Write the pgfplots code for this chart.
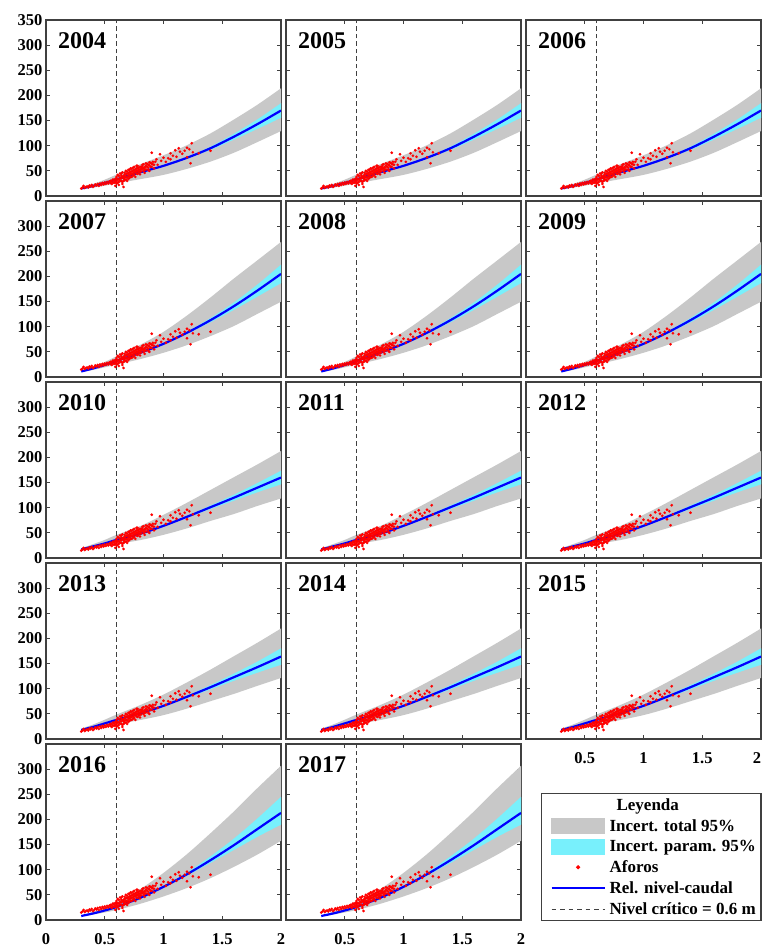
\documentclass[border=0pt]{standalone}
\usepackage{fontspec}
\setmainfont{Liberation Serif}
\usepackage{pgfplots}
\usepackage{pgfplotstable}
\pgfplotsset{compat=1.18}
\usepgfplotslibrary{fillbetween}

\definecolor{grayband}{RGB}{200,200,200}
\definecolor{cyanband}{RGB}{120,240,252}
\definecolor{frame}{RGB}{64,64,64}

% rating curves: x = stage (m), q = discharge, gu/gl = total 95%, cu/cl = parametric 95%
\pgfplotstableread{
x q gu gl cu cl
0.3 15 17.3 13.1 15.0 15.0
0.4 20 24.0 16.6 20.0 20.0
0.5 26 32.5 20.5 26.0 26.0
0.6 33 42.6 25.1 33.1 32.9
0.8 47 63.0 33.4 47.3 46.7
1.0 60 81.0 42.0 60.9 59.1
1.2 76 101.1 54.0 77.8 74.2
1.4 95 124.5 68.4 98.4 91.6
1.6 118 152.2 86.1 123.9 112.1
1.8 143 181.6 107.3 152.5 133.5
2.0 170 214.2 129.2 184.5 155.5
}\tA
\pgfplotstableread{
x q gu gl cu cl
0.3 11 12.7 9.6 11.0 11.0
0.4 17 20.4 14.1 17.0 17.0
0.5 24 30.0 19.2 24.0 24.0
0.6 32 41.3 24.6 32.1 31.9
0.8 48 63.8 35.5 48.4 47.6
1.0 66 89.8 48.2 67.0 65.0
1.2 88 122.3 63.4 90.2 85.8
1.4 113 158.2 81.4 117.3 108.7
1.6 141 196.0 101.5 148.4 133.6
1.8 172 232.2 125.6 184.0 160.0
2.0 205 268.6 149.7 223.5 186.5
}\tB
\pgfplotstableread{
x q gu gl cu cl
0.3 17 19.6 14.8 17.0 17.0
0.4 23 27.6 19.1 23.0 23.0
0.5 29 36.0 23.2 29.0 29.0
0.6 36 46.1 27.7 36.1 35.9
0.8 48 63.4 35.5 48.3 47.7
1.0 64 85.8 46.1 64.9 63.1
1.2 82 109.9 59.0 84.0 80.0
1.4 101 135.3 73.7 104.6 97.4
1.6 120 160.8 87.6 126.0 114.0
1.8 140 186.2 103.6 149.3 130.7
2.0 160 212.8 118.4 173.6 146.4
}\tC
\pgfplotstableread{
x q gu gl cu cl
0.3 18 20.7 15.7 18.0 18.0
0.4 24 28.8 19.9 24.0 24.0
0.5 31 38.4 24.8 31.0 31.0
0.6 38 48.6 29.3 38.1 37.9
0.8 51 67.3 37.7 51.4 50.6
1.0 66 88.4 47.5 67.1 64.9
1.2 84 112.6 60.5 86.4 81.6
1.4 103 138.0 75.2 107.3 98.7
1.6 123 164.8 89.8 130.2 115.8
1.8 143 191.6 105.8 154.1 131.9
2.0 164 219.8 121.4 180.4 147.6
}\tD
\pgfplotstableread{
x q gu gl cu cl
0.3 8 9.6 6.9 8.0 8.0
0.4 13 16.3 10.7 13.0 13.0
0.5 19 24.7 15.0 19.0 19.0
0.6 26 34.8 19.8 26.1 25.9
0.8 44 61.2 32.1 44.4 43.7
1.0 66 93.7 46.9 67.7 64.8
1.2 91 131.0 63.7 94.8 88.2
1.4 119 172.6 83.3 126.5 113.5
1.6 149 216.1 105.8 162.1 139.4
1.8 181 262.5 130.3 202.1 165.5
2.0 213 306.7 157.6 245.0 189.6
}\tE

% gaugings (same in every panel)
\pgfplotstableread[row sep=\\]{
x y\\
0.30 15\\ 0.31 17\\ 0.32 20\\ 0.33 16\\ 0.34 18\\ 0.35 19\\ 0.36 17\\ 0.37 21\\
0.38 19\\ 0.39 22\\ 0.40 18\\ 0.41 20\\ 0.42 23\\ 0.43 21\\ 0.44 24\\ 0.45 20\\
0.46 25\\ 0.47 22\\ 0.48 26\\ 0.49 23\\ 0.50 27\\ 0.51 24\\ 0.52 28\\ 0.53 25\\
0.54 29\\ 0.55 26\\ 0.56 30\\ 0.57 27\\ 0.58 31\\ 0.59 20\\ 0.59 28\\
0.55 30\\ 0.56 24\\ 0.57 33\\ 0.58 26\\ 0.59 34\\
0.60 30\\ 0.60 38\\ 0.61 26\\ 0.61 42\\ 0.62 33\\ 0.62 22\\ 0.63 36\\ 0.63 45\\
0.64 30\\ 0.64 40\\ 0.65 28\\ 0.65 47\\ 0.66 35\\ 0.66 18\\ 0.67 42\\ 0.67 32\\
0.68 38\\ 0.68 50\\ 0.69 44\\ 0.69 30\\ 0.70 40\\ 0.70 52\\ 0.71 36\\ 0.71 47\\
0.72 43\\ 0.72 55\\ 0.73 38\\ 0.73 49\\ 0.74 45\\ 0.74 56\\ 0.75 42\\ 0.75 52\\
0.76 48\\ 0.76 38\\ 0.77 55\\ 0.77 45\\ 0.78 50\\ 0.78 60\\ 0.79 47\\ 0.79 56\\
0.80 52\\ 0.80 43\\ 0.81 58\\ 0.81 49\\ 0.82 54\\ 0.82 62\\ 0.83 50\\ 0.84 57\\
0.84 46\\ 0.85 60\\ 0.85 53\\ 0.86 64\\ 0.87 56\\ 0.88 61\\ 0.88 50\\ 0.89 66\\
0.90 58\\ 0.90 86\\ 0.91 63\\ 0.92 55\\ 0.93 68\\ 0.94 73\\ 0.95 62\\
0.60 35\\ 0.60 25\\ 0.61 33\\ 0.62 40\\ 0.62 28\\ 0.63 31\\ 0.64 35\\ 0.64 44\\
0.65 38\\ 0.65 24\\ 0.66 40\\ 0.66 30\\ 0.67 37\\ 0.67 46\\ 0.68 33\\ 0.68 43\\
0.69 48\\ 0.69 37\\ 0.70 45\\ 0.70 34\\ 0.71 42\\ 0.71 52\\ 0.72 48\\ 0.72 38\\
0.73 44\\ 0.73 54\\ 0.74 50\\ 0.74 40\\ 0.75 47\\ 0.75 58\\ 0.76 53\\ 0.77 50\\
0.77 60\\ 0.78 44\\ 0.78 55\\ 0.79 52\\ 0.80 58\\ 0.80 48\\ 0.81 54\\ 0.82 58\\
0.83 55\\ 0.83 63\\ 0.84 52\\ 0.85 65\\ 0.86 58\\ 0.87 62\\ 0.87 52\\ 0.88 67\\
0.89 58\\ 0.90 64\\ 0.91 68\\ 0.92 62\\
0.97 83\\ 0.98 70\\ 1.00 76\\ 1.02 68\\ 1.04 75\\ 1.06 85\\ 1.06 73\\ 1.08 80\\
1.10 91\\ 1.11 78\\ 1.13 95\\ 1.14 88\\ 1.16 84\\ 1.18 90\\ 1.20 77\\ 1.20 96\\
1.22 93\\ 1.23 65\\ 1.24 105\\ 1.25 87\\ 1.30 85\\ 1.40 90\\
}\aforos

\pgfplotsset{
  panel/.style={
    scale only axis, width=235pt, height=176pt, anchor=north west,
    xmin=0, xmax=2, ymin=0, ymax=350,
    xtick={0,0.5,1,1.5,2}, ytick={0,50,...,350},
    xticklabels={}, yticklabels={},
    tick align=inside, xtick pos=both, ytick pos=both,
    major tick length=4pt,
    axis line style={frame, line width=1.5pt},
    tick style={frame, line width=0.8pt},
    ticklabel style={font=\fontsize{16.5}{17}\selectfont\bfseries},
    xticklabel style={yshift=-10pt},
  },
  ylab1/.style={yticklabels={0,50,100,150,200,250,300,350}},
  ylab/.style={yticklabels={0,50,100,150,200,250,300,}},
}

\newcommand{\panel}[4]{%
\begin{axis}[panel, at={(#1)}, #4]
  \addplot[name path=gu, draw=none, smooth, forget plot] table[x=x, y=gu]{#2};
  \addplot[name path=gl, draw=none, smooth, forget plot] table[x=x, y=gl]{#2};
  \addplot[grayband, draw=none, forget plot] fill between[of=gu and gl];
  \addplot[name path=cu, draw=none, smooth, forget plot] table[x=x, y=cu]{#2};
  \addplot[name path=cl, draw=none, smooth, forget plot] table[x=x, y=cl]{#2};
  \addplot[cyanband, draw=none, forget plot] fill between[of=cu and cl];
  \addplot[red, only marks, mark=*, mark size=1.3pt, mark options={solid, fill=red, draw=red, line width=0.1pt}] table[x=x, y=y]{\aforos};
  \addplot[blue, line width=2.2pt, smooth] table[x=x, y=q]{#2};
  \addplot[frame, dash pattern=on 4.5pt off 3pt, line width=0.8pt] coordinates {(0.6,0) (0.6,350)};
  \node[anchor=north west, inner sep=0pt, xshift=12pt, yshift=-12pt,
        font=\fontsize{24}{24}\selectfont\bfseries] at (rel axis cs:0,1) {#3};
\end{axis}}

\begin{document}
\begin{tikzpicture}
\panel{46pt,-20pt}{\tA}{2004}{ylab1}
\panel{286pt,-20pt}{\tA}{2005}{}
\panel{526pt,-20pt}{\tA}{2006}{}

\panel{46pt,-201pt}{\tB}{2007}{ylab}
\panel{286pt,-201pt}{\tB}{2008}{}
\panel{526pt,-201pt}{\tB}{2009}{}

\panel{46pt,-382pt}{\tC}{2010}{ylab}
\panel{286pt,-382pt}{\tC}{2011}{}
\panel{526pt,-382pt}{\tC}{2012}{}

\panel{46pt,-563pt}{\tD}{2013}{ylab}
\panel{286pt,-563pt}{\tD}{2014}{}
\panel{526pt,-563pt}{\tD}{2015}{xticklabels={,0.5,1,1.5,\llap{2}}}

\panel{46pt,-744pt}{\tE}{2016}{ylab, xticklabels={0,0.5,1,1.5,2}}
\panel{286pt,-744pt}{\tE}{2017}{xticklabels={,0.5,1,1.5,2}}

\begin{axis}[hide axis, scale only axis, width=220pt, height=128pt,
  anchor=north west, at={(541pt,-793pt)}, xmin=0, xmax=1, ymin=0, ymax=1,
  legend cell align=left,
  legend style={at={(0,1)}, anchor=north west, draw=frame, line width=1.2pt,
    fill=white, font=\fontsize{17}{19}\selectfont\bfseries,
    inner xsep=3pt, inner ysep=3pt, row sep=3.5pt, column sep=2pt}]
  \addlegendimage{empty legend}
  \addlegendentry{\hspace{7pt}Leyenda}
  \addlegendimage{legend image code/.code={\path[draw=none, fill=none] (0pt,-7.5pt) rectangle (60pt,7.5pt);
    \fill[grayband] (7pt,-7.5pt) rectangle (60pt,7.5pt);}}
  \addlegendentry{Incert. total 95\%}
  \addlegendimage{legend image code/.code={\path[draw=none, fill=none] (0pt,-7.5pt) rectangle (60pt,7.5pt);
    \fill[cyanband] (7pt,-7.5pt) rectangle (60pt,7.5pt);}}
  \addlegendentry{Incert. param. 95\%}
  \addlegendimage{legend image code/.code={\path[draw=none, fill=none] (0pt,-2pt) rectangle (60pt,2pt);
    \fill[red] (33.5pt,0pt) circle (1.3pt);}}
  \addlegendentry{Aforos}
  \addlegendimage{legend image code/.code={\path[draw=none, fill=none] (0pt,-2pt) rectangle (60pt,2pt);
    \draw[blue, line width=2pt] (7pt,0pt) -- (60pt,0pt);}}
  \addlegendentry{Rel. nivel-caudal}
  \addlegendimage{legend image code/.code={\path[draw=none, fill=none] (0pt,-2pt) rectangle (60pt,2pt);
    \draw[frame, dash pattern=on 4.5pt off 4pt, line width=0.8pt] (7pt,0pt) -- (60pt,0pt);}}
  \addlegendentry{Nivel crítico = 0.6 m}
\end{axis}
\pgfresetboundingbox
\path[use as bounding box] (0pt,0pt) rectangle (763pt,-947pt);
\end{tikzpicture}
\end{document}
